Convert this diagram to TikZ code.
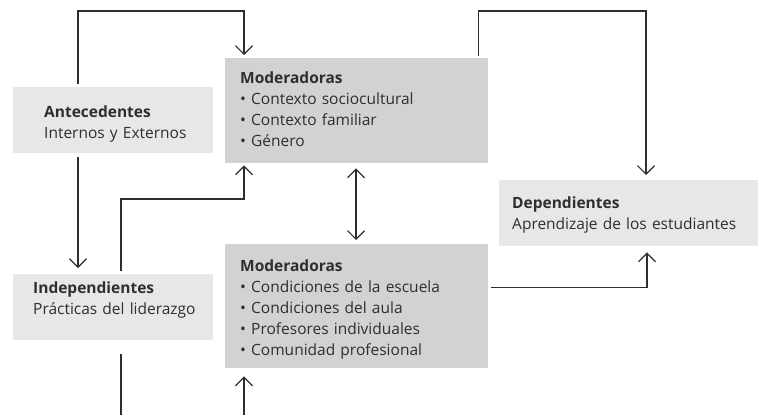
\documentclass[tikz,border=0pt]{standalone}
\usepackage{fontspec}
\setmainfont{Open Sans}
\usetikzlibrary{arrows.meta}
\definecolor{boxlight}{HTML}{E6E7E8}
\definecolor{boxdark}{HTML}{D1D2D4}
\definecolor{inkgray}{HTML}{2E2E2E}
\begin{document}
\begin{tikzpicture}[
        x=1pt, y=-1pt,
        every node/.style={anchor=north west, inner ysep=0pt, align=left, text=inkgray,
            font=\fontsize{15.5}{21}\selectfont},
        lightbox/.style={fill=boxlight},
        darkbox/.style={fill=boxdark},
        ar/.style={-{Straight Barb[length=8.5pt, width=17pt]}, line width=1.2pt, draw=inkgray},
        dar/.style={{Straight Barb[length=8.5pt, width=17pt]}-{Straight Barb[length=8.5pt, width=17pt]}, line width=1.2pt, draw=inkgray},
        ln/.style={line width=1.2pt, draw=inkgray},
    ]
    \useasboundingbox (0,0) rectangle (758,415);

    \node[lightbox, inner xsep=31pt, text width=138pt, text height=30pt, text depth=36pt] (ant) at (13,87)
        {\textbf{Antecedentes}\\\mbox{Internos y Externos}};
    \node[lightbox, inner xsep=20pt, text width=160pt, text height=19pt, text depth=47pt] (ind) at (13,274)
        {\textbf{Independientes}\\\mbox{Prácticas del liderazgo}};
    \node[darkbox, inner xsep=15pt, text width=233pt, text height=25pt, text depth=80pt] (mod1) at (225,58)
        {\textbf{Moderadoras}\\\textbullet~Contexto sociocultural\\\textbullet~Contexto familiar\\\textbullet~Género};
    \node[darkbox, inner xsep=15pt, text width=233pt, text height=27pt, text depth=97pt] (mod2) at (225,244)
        {\textbf{Moderadoras}\\\textbullet~Condiciones de la escuela\\\textbullet~Condiciones del aula\\\textbullet~Profesores individuales\\\textbullet~Comunidad profesional};
    \node[lightbox, inner xsep=13pt, text width=233pt, text height=28pt, text depth=38pt] (dep) at (499,180)
        {\textbf{Dependientes}\\\mbox{Aprendizaje de los estudiantes}};

    \coordinate (indout) at (121,415);
    \coordinate (mod2in) at (244,415);

    \draw[ar] ([shift={(65,-3)}]ant.north west) -- ++(0,-73) -| ([shift={(19,-3)}]mod1.north west);
    \draw[ar] ([shift={(65,4)}]ant.south west) -- ([shift={(65,-6)}]ind.north west);
    \draw[ar] ([shift={(108,-3)}]ind.north west) -- ++(0,-72) -| ([shift={(19,2)}]mod1.south west);
    \draw[dar] ([shift={(131,5)}]mod1.south west) -- ([shift={(131,-4)}]mod2.north west);
    \draw[ar] ([shift={(-10,-2)}]mod1.north east) -- ++(0,-45) -| ([shift={(147,-5)}]dep.north west);
    \draw[ar] ([shift={(3,-81)}]mod2.south east) -| ([shift={(148,6)}]dep.south west);
    \draw[ln] ([shift={(108,14)}]ind.south west) -- (indout);
    \draw[ar] (mod2in) -- ([shift={(19,8)}]mod2.south west);
\end{tikzpicture}
\end{document}
